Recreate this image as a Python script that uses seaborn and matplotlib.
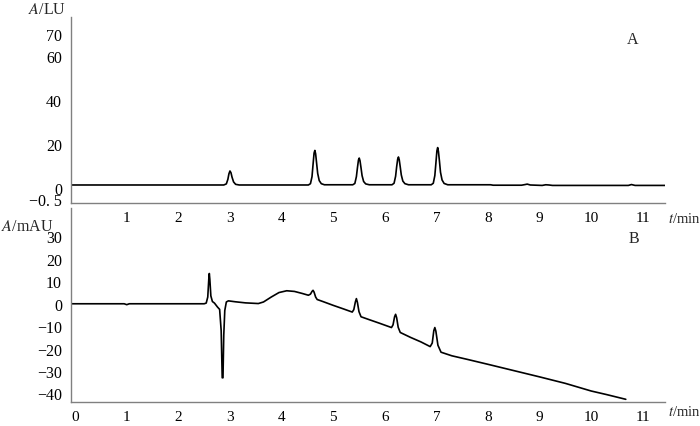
import numpy as np
import pandas as pd
import seaborn as sns
import matplotlib.pyplot as plt

# Chromatogram A (fluorescence, LU)
t_a = [-0.08, 2.88, 2.93, 2.96, 2.98, 3.00, 3.02, 3.04, 3.07, 3.11, 3.18,
       4.52, 4.56, 4.59, 4.61, 4.63, 4.645, 4.66, 4.68, 4.70, 4.73, 4.77, 4.83,
       5.38, 5.42, 5.45, 5.47, 5.49, 5.505, 5.52, 5.54, 5.56, 5.59, 5.63, 5.70,
       6.14, 6.18, 6.21, 6.23, 6.25, 6.265, 6.28, 6.30, 6.32, 6.35, 6.39, 6.46,
       6.90, 6.94, 6.97, 6.99, 7.01, 7.025, 7.04, 7.06, 7.08, 7.11, 7.15, 7.22,
       8.05, 8.10, 8.65, 8.72, 8.76, 8.82, 9.05, 9.12, 9.18, 9.25,
       10.72, 10.78, 10.85, 11.43]
a_lu = [1.2, 1.2, 1.7, 3.8, 6.3, 7.6, 6.8, 4.8, 2.6, 1.5, 1.2,
        1.2, 1.8, 5.0, 10.5, 15.8, 17.0, 15.5, 11.0, 6.5, 3.2, 1.8, 1.3,
        1.3, 1.9, 5.0, 9.0, 12.6, 13.5, 12.3, 9.0, 5.5, 2.8, 1.7, 1.3,
        1.3, 2.0, 5.2, 9.5, 13.0, 14.0, 12.8, 9.4, 5.8, 3.0, 1.8, 1.3,
        1.3, 2.0, 5.5, 11.0, 16.8, 18.3, 16.5, 12.0, 7.0, 3.5, 1.9, 1.3,
        1.3, 1.1, 1.1, 1.4, 1.6, 1.2, 1.0, 1.3, 1.2, 1.0,
        1.0, 1.4, 1.0, 1.0]

# Chromatogram B (UV, mAU)
t_b = [-0.08, 0.95, 1.00, 1.05, 2.50, 2.54, 2.57, 2.59, 2.60, 2.61, 2.63, 2.66,
       2.70, 2.76, 2.80, 2.83, 2.85, 2.865, 2.88, 2.90, 2.93, 2.97, 3.10, 3.30,
       3.55, 3.65, 3.80, 3.95, 4.10, 4.25, 4.40, 4.52, 4.56, 4.59, 4.61, 4.63,
       4.66, 4.69, 4.80, 5.00, 5.20, 5.37, 5.40, 5.43, 5.45, 5.47, 5.50, 5.54,
       5.70, 5.90, 6.13, 6.16, 6.19, 6.21, 6.23, 6.26, 6.30, 6.50, 6.70, 6.88,
       6.92, 6.95, 6.97, 6.99, 7.03, 7.09, 7.30, 7.60, 8.00, 8.50, 9.00, 9.50,
       10.00, 10.30, 10.67]
a_mau = [0, 0, -0.4, 0, 0, 0.3, 3.0, 11.0, 13.5, 11.0, 3.5, 1.0,
         0.3, -1.5, -2.5, -12.0, -33.0, -33.0, -14.0, -3.0, 0.8, 1.3, 0.9, 0.4,
         0.1, 0.8, 3.0, 5.0, 5.8, 5.5, 4.6, 3.8, 4.3, 5.5, 6.0, 5.2,
         3.0, 1.9, 1.0, -0.7, -2.3, -3.7, -2.6, 0.8, 2.3, 0.6, -3.5, -5.8,
         -7.1, -8.7, -10.6, -9.4, -5.8, -4.7, -6.2, -10.5, -12.8, -15.0, -17.0, -19.1,
         -17.5, -12.0, -10.6, -12.2, -18.5, -21.6, -23.2, -24.8, -27.0, -29.8, -32.6, -35.5,
         -38.9, -40.5, -42.6]

x_ticks_a = list(range(1, 12))
x_ticks_b = list(range(0, 12))
y_ticks_a = [-0.5, 0, 10, 20, 30, 40, 50, 60, 70]
y_labels_a = ["\u22120. 5", "0", "", "20", "", "40", "", "60", "70"]
y_ticks_b = [-40, -30, -20, -10, 0, 10, 20, 30]

sns.set_theme(style="white")
plt.rcParams['font.family'] = ['Liberation Serif', 'DejaVu Serif']
plt.rcParams['mathtext.fontset'] = 'stix'
plt.rcParams['axes.unicode_minus'] = True

gray = "#808080"
fig = plt.figure(figsize=(7, 4.27), dpi=100)
ax1 = fig.add_axes([71/700, 1 - 204/427, 594/700, 186/427])
ax2 = fig.add_axes([71/700, 1 - 403/427, 594/700, 194/427])

df_a = pd.DataFrame({"t": t_a, "A": a_lu})
df_b = pd.DataFrame({"t": t_b, "A": a_mau})
sns.lineplot(data=df_a, x="t", y="A", ax=ax1, color="black", lw=1.2, estimator=None)
sns.lineplot(data=df_b, x="t", y="A", ax=ax2, color="black", lw=1.2, estimator=None)

# broken y scale for panel A: the part below zero is stretched
def fwd(y):
    y = np.asarray(y, dtype=float)
    return np.where(y < 0, y * 10.5, y)

def inv(y):
    y = np.asarray(y, dtype=float)
    return np.where(y < 0, y / 10.5, y)

ax1.set_yscale('function', functions=(fwd, inv))
ax1.set_ylim(-0.67, 78)
ax1.set_yticks(y_ticks_a)
ax1.set_yticklabels(y_labels_a)
ax1.set_xticks(x_ticks_a)
ax1.minorticks_off()

ax2.set_ylim(-43.8, 42.7)
ax2.set_yticks(y_ticks_b)
ax2.set_yticklabels([str(v).replace("-", "\u2212") for v in y_ticks_b])
ax2.set_xticks(x_ticks_b)

for ax in (ax1, ax2):
    ax.set_xlim(-0.08, 11.43)
    ax.set_xlabel("")
    ax.set_ylabel("")
    for s in ("top", "right"):
        ax.spines[s].set_visible(False)
    for s in ("left", "bottom"):
        ax.spines[s].set_color(gray)
        ax.spines[s].set_linewidth(1.0)
    ax.tick_params(axis="both", direction="out", length=4, width=1.0,
                   color=gray, labelsize=11.5, labelcolor="black")
    ax.tick_params(axis="y", pad=2.5)
    ax.tick_params(axis="x", pad=1.5, labelsize=11)
    ax.patch.set_alpha(0)

ax1.text(0.946, 0.882, "A", transform=ax1.transAxes, fontsize=11.5, ha="center", va="center")
ax2.text(0.948, 0.843, "B", transform=ax2.transAxes, fontsize=11.5, ha="center", va="center")

fig.text(28/700, 1 - 10/427, "$\\it{A}$/LU", fontsize=11.5, ha="left", va="center")
fig.text(1/700, 1 - 227/427, "$\\it{A}$/mAU", fontsize=11.5, ha="left", va="center")
fig.text(668/700, 1 - 219/427, "$\\it{t}$/min", fontsize=10.5, ha="left", va="center")
fig.text(668/700, 1 - 412/427, "$\\it{t}$/min", fontsize=10.5, ha="left", va="center")

fig.savefig("out.png", dpi=100)
